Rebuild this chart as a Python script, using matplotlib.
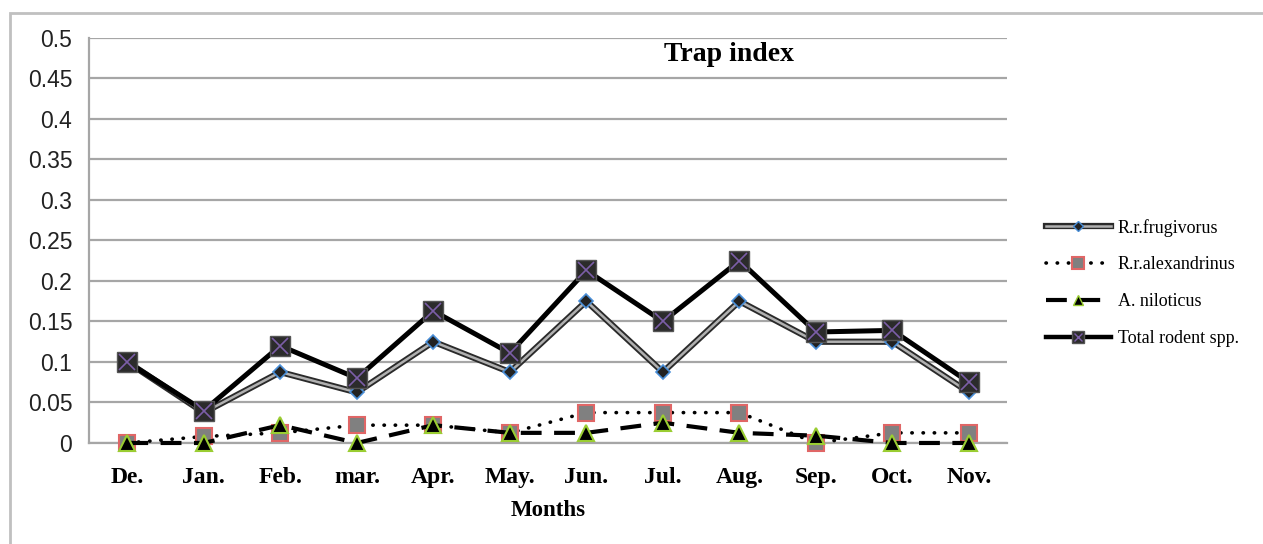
import matplotlib
matplotlib.use('Agg')
import matplotlib.pyplot as plt
from matplotlib.patches import Rectangle
from matplotlib.lines import Line2D

# Data
months = ['De.', 'Jan.', 'Feb.', 'mar.', 'Apr.', 'May.', 'Jun.', 'Jul.', 'Aug.', 'Sep.', 'Oct.', 'Nov.']
frugivorus = [0.1, 0.0375, 0.0875, 0.0625, 0.125, 0.0875, 0.175, 0.0875, 0.175, 0.125, 0.125, 0.0625]
alexandrinus = [0.0, 0.008, 0.0125, 0.022, 0.022, 0.0125, 0.0375, 0.0375, 0.0375, 0.0, 0.0125, 0.0125]
niloticus = [0.0, 0.0, 0.022, 0.0, 0.022, 0.0125, 0.0125, 0.025, 0.0125, 0.009, 0.0, 0.0]
total = [0.1, 0.04, 0.12, 0.08, 0.163, 0.111, 0.213, 0.15, 0.225, 0.137, 0.139, 0.075]
yticks = [0, 0.05, 0.1, 0.15, 0.2, 0.25, 0.3, 0.35, 0.4, 0.45, 0.5]
ytick_labels = ['0', '0.05', '0.1', '0.15', '0.2', '0.25', '0.3', '0.35', '0.4', '0.45', '0.5']

serif = 'Liberation Serif'
sans = 'Liberation Sans'

fig = plt.figure(figsize=(12.63, 5.44), dpi=100)
ax = fig.add_axes([0.0705, 0.1857, 0.727, 0.7445])

x = list(range(len(months)))

# R.r.frugivorus: double line with small diamonds
f_out, = ax.plot(x, frugivorus, color='#2a2a2a', lw=4.5, solid_joinstyle='miter', zorder=3)
f_in, = ax.plot(x, frugivorus, color='#b0b0b0', lw=1.8, marker='D', markersize=7,
                markerfacecolor='#222222', markeredgecolor='#4a8fd8', markeredgewidth=1.2,
                clip_on=False, zorder=3.1)

# R.r.alexandrinus: dotted line, grey squares with red edge
a_line, = ax.plot(x, alexandrinus, color='black', lw=2.6, linestyle=(0, (0.1, 3)),
                  dash_capstyle='round', marker='s', markersize=12,
                  markerfacecolor='#808080', markeredgecolor='#e06666', markeredgewidth=1.5,
                  clip_on=False, zorder=4)

# A. niloticus: dashed line, black triangles with yellow-green edge
n_line, = ax.plot(x, niloticus, color='black', lw=3, linestyle=(0, (5, 3)),
                  marker='^', markersize=11,
                  markerfacecolor='black', markeredgecolor='#9acd32', markeredgewidth=1.5,
                  clip_on=False, zorder=5)

# Total rodent spp.: thick black line, dark squares with purple cross
t_line, = ax.plot(x, total, color='black', lw=3.6, marker='s', markersize=15,
                  markerfacecolor='#2b2b2b', markeredgecolor='#555555', markeredgewidth=1,
                  clip_on=False, zorder=6)
t_x, = ax.plot(x, total, linestyle='none', marker='x', markersize=11,
               markeredgecolor='#7b5ea7', markeredgewidth=1.2, clip_on=False, zorder=6.1)

ax.set_xlim(-0.5, len(months) - 0.5)
ax.set_ylim(0, 0.5)
ax.set_yticks(yticks)
ax.set_yticklabels(ytick_labels, fontfamily=sans, fontsize=16.5, color='#222222')
ax.set_xticks(x)
ax.set_xticklabels(months, fontfamily=serif, fontweight='bold', fontsize=17)
ax.tick_params(axis='both', length=0)
ax.tick_params(axis='y', pad=12)
ax.tick_params(axis='x', pad=17)
ax.set_xlabel('Months', fontfamily=serif, fontweight='bold', fontsize=16.5, labelpad=9)

ax.grid(axis='y', color='#a6a6a6', lw=1.6)
ax.set_axisbelow(True)
for side in ['top', 'right']:
    ax.spines[side].set_visible(False)
ax.spines['left'].set_color('#a6a6a6')
ax.spines['left'].set_linewidth(1.6)
ax.spines['bottom'].set_color('#a6a6a6')
ax.spines['bottom'].set_linewidth(1.6)

ax.text(0.697, 0.99, 'Trap index', transform=ax.transAxes, ha='center', va='top',
        fontfamily=serif, fontweight='bold', fontsize=20)

# legend
h_fru = (Line2D([], [], color='#2a2a2a', lw=4.5),
         Line2D([], [], color='#b0b0b0', lw=1.8, marker='D', markersize=5,
                markerfacecolor='#222222', markeredgecolor='#4a8fd8'))
h_ale = Line2D([], [], color='black', lw=2.6, linestyle=(0, (0.1, 3)), dash_capstyle='round',
               marker='s', markersize=8, markerfacecolor='#808080', markeredgecolor='#e06666',
               markeredgewidth=1.5)
h_nil = Line2D([], [], color='black', lw=3, linestyle=(0, (5, 3)), marker='^', markersize=7,
               markerfacecolor='black', markeredgecolor='#9acd32')
h_tot = (Line2D([], [], color='black', lw=3.2, marker='s', markersize=8,
                markerfacecolor='#2b2b2b', markeredgecolor='#555555'),
         Line2D([], [], linestyle='none', marker='x', markersize=6, markeredgecolor='#7b5ea7'))
fig.legend([h_fru, h_ale, h_nil, h_tot],
           ['R.r.frugivorus', 'R.r.alexandrinus', 'A. niloticus', 'Total rodent spp.'],
           loc='center left', bbox_to_anchor=(0.815, 0.48), frameon=False,
           prop={'family': serif, 'size': 13}, handlelength=3.6, labelspacing=1.1,
           handletextpad=0.4)

# outer chart frame
fig.patches.append(Rectangle((10 / 1263, -0.1), 1.2, 1.1 - 13 / 544, transform=fig.transFigure,
                             fill=False, edgecolor='#c0c0c0', lw=2, zorder=0))

fig.savefig('out.png', dpi=100)
